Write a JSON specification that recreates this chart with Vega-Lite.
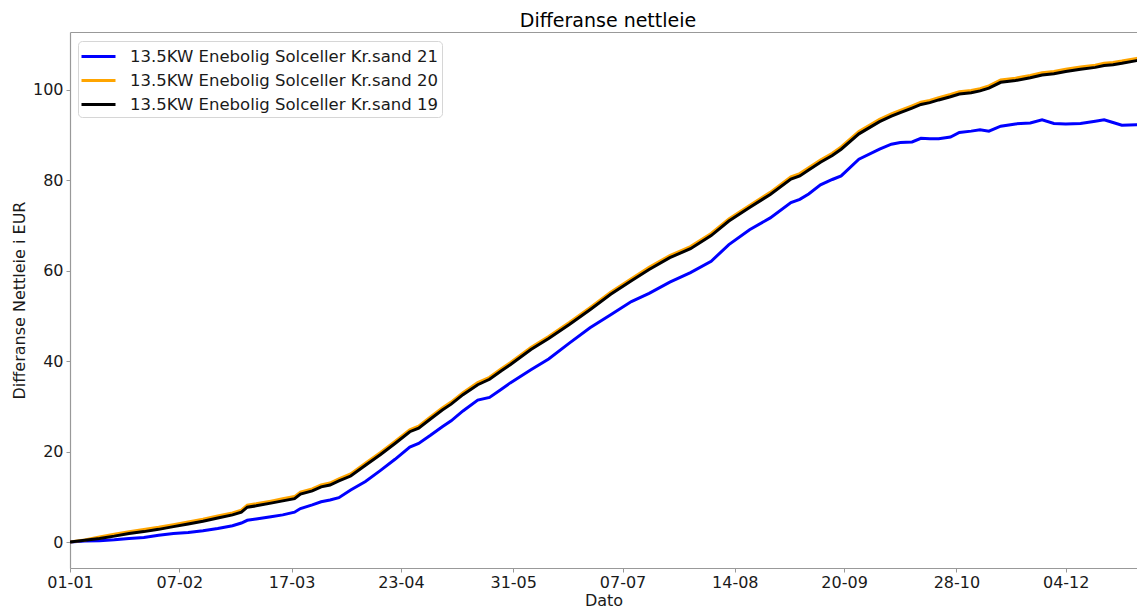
{
  "$schema": "https://vega.github.io/schema/vega-lite/v6.json",
  "width": 1067,
  "height": 536,
  "autosize": {"type": "none"},
  "padding": {"left": 70, "top": 32, "right": 0, "bottom": 40},
  "background": "white",
  "config": {
    "view": {"stroke": null},
    "font": "DejaVu Sans",
    "axis": {
      "domainColor": "#999999",
      "domainWidth": 1.2,
      "tickColor": "#999999",
      "tickSize": 4,
      "tickWidth": 1,
      "labelFont": "DejaVu Sans",
      "labelFontSize": 16,
      "labelColor": "#1a1a1a",
      "titleFont": "DejaVu Sans",
      "titleFontSize": 16,
      "titleFontWeight": "normal",
      "titleColor": "#1a1a1a",
      "grid": false
    }
  },
  "title": {
    "text": "Differanse nettleie",
    "fontSize": 19,
    "fontWeight": "normal",
    "font": "DejaVu Sans",
    "color": "#000000",
    "offset": 1,
    "dx": 4.5
  },
  "data": {
    "values": [
      {"dato": "2021-01-01", "s21": 0, "s20": 0, "s19": 0},
      {"dato": "2021-01-06", "s21": 0.2, "s20": 0.45, "s19": 0.4},
      {"dato": "2021-01-11", "s21": 0.3, "s20": 1.1, "s19": 0.8},
      {"dato": "2021-01-16", "s21": 0.5, "s20": 1.7, "s19": 1.3},
      {"dato": "2021-01-21", "s21": 0.8, "s20": 2.3, "s19": 1.9},
      {"dato": "2021-01-26", "s21": 1.0, "s20": 2.75, "s19": 2.3},
      {"dato": "2021-01-31", "s21": 1.5, "s20": 3.25, "s19": 2.8},
      {"dato": "2021-02-05", "s21": 1.9, "s20": 3.85, "s19": 3.4},
      {"dato": "2021-02-10", "s21": 2.1, "s20": 4.45, "s19": 4.0},
      {"dato": "2021-02-15", "s21": 2.5, "s20": 5.05, "s19": 4.6},
      {"dato": "2021-02-20", "s21": 3.0, "s20": 5.75, "s19": 5.3},
      {"dato": "2021-02-25", "s21": 3.6, "s20": 6.45, "s19": 6.0},
      {"dato": "2021-02-28", "s21": 4.2, "s20": 7.05, "s19": 6.6},
      {"dato": "2021-03-02", "s21": 4.8, "s20": 8.15, "s19": 7.7},
      {"dato": "2021-03-05", "s21": 5.1, "s20": 8.45, "s19": 8.0},
      {"dato": "2021-03-10", "s21": 5.6, "s20": 9.05, "s19": 8.6},
      {"dato": "2021-03-14", "s21": 6.0, "s20": 9.55, "s19": 9.1},
      {"dato": "2021-03-18", "s21": 6.6, "s20": 10.05, "s19": 9.6},
      {"dato": "2021-03-20", "s21": 7.4, "s20": 11.05, "s19": 10.6},
      {"dato": "2021-03-24", "s21": 8.2, "s20": 11.75, "s19": 11.3},
      {"dato": "2021-03-27", "s21": 8.9, "s20": 12.65, "s19": 12.2},
      {"dato": "2021-03-30", "s21": 9.3, "s20": 13.05, "s19": 12.6},
      {"dato": "2021-04-02", "s21": 9.8, "s20": 13.95, "s19": 13.5},
      {"dato": "2021-04-06", "s21": 11.5, "s20": 15.05, "s19": 14.6},
      {"dato": "2021-04-11", "s21": 13.4, "s20": 17.45, "s19": 17.0},
      {"dato": "2021-04-16", "s21": 15.8, "s20": 19.75, "s19": 19.3},
      {"dato": "2021-04-21", "s21": 18.3, "s20": 22.25, "s19": 21.8},
      {"dato": "2021-04-26", "s21": 21.0, "s20": 24.85, "s19": 24.4},
      {"dato": "2021-04-29", "s21": 21.8, "s20": 25.65, "s19": 25.2},
      {"dato": "2021-05-03", "s21": 23.6, "s20": 27.65, "s19": 27.2},
      {"dato": "2021-05-07", "s21": 25.5, "s20": 29.65, "s19": 29.2},
      {"dato": "2021-05-10", "s21": 26.8, "s20": 30.95, "s19": 30.5},
      {"dato": "2021-05-14", "s21": 29.0, "s20": 33.05, "s19": 32.6},
      {"dato": "2021-05-19", "s21": 31.4, "s20": 35.25, "s19": 34.8},
      {"dato": "2021-05-23", "s21": 32.0, "s20": 36.45, "s19": 36.0},
      {"dato": "2021-05-27", "s21": 33.8, "s20": 38.35, "s19": 37.9},
      {"dato": "2021-05-30", "s21": 35.2, "s20": 39.65, "s19": 39.2},
      {"dato": "2021-06-06", "s21": 38.1, "s20": 43.05, "s19": 42.6},
      {"dato": "2021-06-12", "s21": 40.5, "s20": 45.45, "s19": 45.0},
      {"dato": "2021-06-19", "s21": 44.0, "s20": 48.55, "s19": 48.1},
      {"dato": "2021-06-26", "s21": 47.4, "s20": 51.85, "s19": 51.4},
      {"dato": "2021-07-03", "s21": 50.3, "s20": 55.25, "s19": 54.8},
      {"dato": "2021-07-10", "s21": 53.2, "s20": 58.25, "s19": 57.8},
      {"dato": "2021-07-16", "s21": 55.0, "s20": 60.75, "s19": 60.3},
      {"dato": "2021-07-23", "s21": 57.5, "s20": 63.35, "s19": 62.9},
      {"dato": "2021-07-30", "s21": 59.6, "s20": 65.35, "s19": 64.9},
      {"dato": "2021-08-06", "s21": 62.1, "s20": 68.25, "s19": 67.8},
      {"dato": "2021-08-12", "s21": 65.8, "s20": 71.45, "s19": 71.0},
      {"dato": "2021-08-19", "s21": 69.1, "s20": 74.45, "s19": 74.0},
      {"dato": "2021-08-26", "s21": 71.7, "s20": 77.35, "s19": 76.9},
      {"dato": "2021-09-02", "s21": 75.1, "s20": 80.8, "s19": 80.3},
      {"dato": "2021-09-05", "s21": 75.8, "s20": 81.5, "s19": 81.0},
      {"dato": "2021-09-08", "s21": 77.0, "s20": 82.8, "s19": 82.3},
      {"dato": "2021-09-12", "s21": 79.0, "s20": 84.5, "s19": 84.0},
      {"dato": "2021-09-16", "s21": 80.2, "s20": 86.0, "s19": 85.5},
      {"dato": "2021-09-19", "s21": 81.0, "s20": 87.4, "s19": 86.9},
      {"dato": "2021-09-25", "s21": 84.7, "s20": 90.8, "s19": 90.3},
      {"dato": "2021-10-02", "s21": 86.9, "s20": 93.5, "s19": 93.0},
      {"dato": "2021-10-06", "s21": 88.0, "s20": 94.7, "s19": 94.2},
      {"dato": "2021-10-09", "s21": 88.4, "s20": 95.5, "s19": 95.0},
      {"dato": "2021-10-13", "s21": 88.5, "s20": 96.5, "s19": 96.0},
      {"dato": "2021-10-16", "s21": 89.3, "s20": 97.3, "s19": 96.8},
      {"dato": "2021-10-19", "s21": 89.2, "s20": 97.7, "s19": 97.2},
      {"dato": "2021-10-22", "s21": 89.2, "s20": 98.3, "s19": 97.8},
      {"dato": "2021-10-26", "s21": 89.6, "s20": 99.0, "s19": 98.5},
      {"dato": "2021-10-29", "s21": 90.6, "s20": 99.6, "s19": 99.1},
      {"dato": "2021-11-02", "s21": 90.9, "s20": 99.9, "s19": 99.4},
      {"dato": "2021-11-05", "s21": 91.2, "s20": 100.3, "s19": 99.8},
      {"dato": "2021-11-08", "s21": 90.9, "s20": 100.9, "s19": 100.4},
      {"dato": "2021-11-12", "s21": 92.0, "s20": 102.2, "s19": 101.7},
      {"dato": "2021-11-17", "s21": 92.5, "s20": 102.6, "s19": 102.1},
      {"dato": "2021-11-22", "s21": 92.7, "s20": 103.2, "s19": 102.7},
      {"dato": "2021-11-26", "s21": 93.4, "s20": 103.8, "s19": 103.3},
      {"dato": "2021-11-30", "s21": 92.6, "s20": 104.1, "s19": 103.6},
      {"dato": "2021-12-04", "s21": 92.5, "s20": 104.6, "s19": 104.1},
      {"dato": "2021-12-09", "s21": 92.6, "s20": 105.1, "s19": 104.6},
      {"dato": "2021-12-14", "s21": 93.1, "s20": 105.5, "s19": 105.0},
      {"dato": "2021-12-17", "s21": 93.4, "s20": 105.9, "s19": 105.4},
      {"dato": "2021-12-20", "s21": 92.8, "s20": 106.1, "s19": 105.6},
      {"dato": "2021-12-23", "s21": 92.2, "s20": 106.4, "s19": 105.9},
      {"dato": "2021-12-28", "s21": 92.3, "s20": 107.0, "s19": 106.5},
      {"dato": "2021-12-31", "s21": 92.3, "s20": 107.4, "s19": 106.9}
    ]
  },
  "transform": [
    {"fold": ["s21", "s20", "s19"], "as": ["serie", "verdi"]}
  ],
  "layer": [
    {
      "mark": {"type": "line", "strokeWidth": 3, "clip": true},
      "encoding": {
        "x": {
          "field": "dato",
          "type": "temporal",
          "scale": {
            "type": "utc",
            "domain": [
              {"year": 2021, "month": 1, "date": 1, "utc": true},
              {"year": 2021, "month": 12, "date": 28, "hours": 3, "utc": true}
            ]
          },
          "axis": {
            "title": "Dato",
            "format": "%d-%m",
            "labelAlign": "center",
            "labelFlush": false,
            "labelPadding": 2,
            "titleY": 37,
            "titleBaseline": "alphabetic",
            "values": [
              {"year": 2021, "month": 1, "date": 1, "utc": true},
              {"year": 2021, "month": 2, "date": 7, "utc": true},
              {"year": 2021, "month": 3, "date": 17, "utc": true},
              {"year": 2021, "month": 4, "date": 23, "utc": true},
              {"year": 2021, "month": 5, "date": 31, "utc": true},
              {"year": 2021, "month": 7, "date": 7, "utc": true},
              {"year": 2021, "month": 8, "date": 14, "utc": true},
              {"year": 2021, "month": 9, "date": 20, "utc": true},
              {"year": 2021, "month": 10, "date": 28, "utc": true},
              {"year": 2021, "month": 12, "date": 4, "utc": true}
            ]
          }
        },
        "y": {
          "field": "verdi",
          "type": "quantitative",
          "scale": {"domain": [-5.75, 112.83], "nice": false, "zero": false},
          "axis": {
            "title": "Differanse Nettleie i EUR",
            "values": [0, 20, 40, 60, 80, 100],
            "labelPadding": 3,
            "titlePadding": 5
          }
        },
        "color": {
          "field": "serie",
          "type": "nominal",
          "scale": {
            "domain": ["s21", "s20", "s19"],
            "range": ["#0000ff", "#ffa500", "#000000"]
          },
          "legend": {
            "orient": "none",
            "legendX": 8,
            "legendY": 9,
            "title": null,
            "labelExpr": "'13.5KW Enebolig Solceller Kr.sand ' + slice(datum.label, 1)",
            "symbolType": "M-1.7,0H1.7",
            "symbolSize": 400,
            "symbolStrokeWidth": 3,
            "symbolOffset": 5,
            "labelFont": "DejaVu Sans",
            "labelFontSize": 16.5,
            "labelColor": "#1a1a1a",
            "labelOffset": 20,
            "rowPadding": 4,
            "padding": 4,
            "fillColor": "rgba(255,255,255,0.8)",
            "strokeColor": "#d6d6d6",
            "cornerRadius": 4,
            "labelLimit": 500
          }
        }
      }
    },
    {
      "mark": {"type": "line", "opacity": 0},
      "encoding": {
        "x": {
          "field": "dato",
          "type": "temporal",
          "axis": {"orient": "top", "labels": false, "ticks": false, "title": null, "domain": true}
        },
        "y": {"field": "verdi", "type": "quantitative", "axis": null},
        "detail": {"field": "serie"}
      }
    }
  ],
  "resolve": {"axis": {"x": "independent", "y": "independent"}}
}
